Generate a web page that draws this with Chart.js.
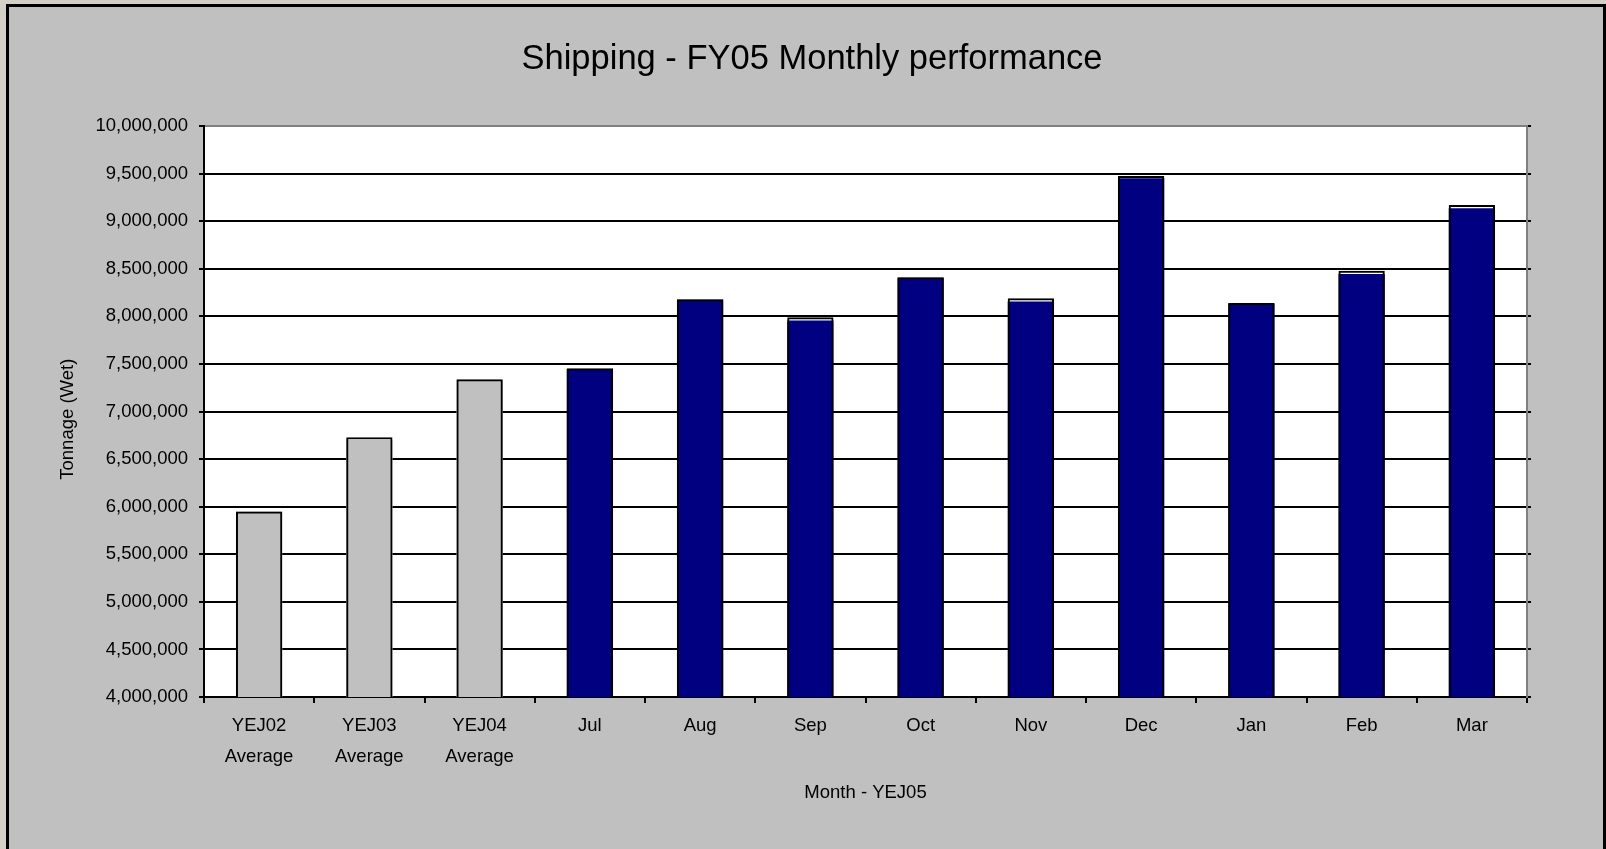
<!DOCTYPE html>
<html><head><meta charset="utf-8">
<script src="https://cdn.jsdelivr.net/npm/chart.js@4.4.1/dist/chart.umd.min.js"></script>
<style>
html,body{margin:0;padding:0;background:#d4d0c8;overflow:hidden;width:1606px;height:849px}
#frame{position:absolute;left:6px;top:4px;width:1594px;height:850px;border:3px solid #000;background:#c0c0c0}
canvas{display:block}
</style></head><body>
<div id="frame"><canvas id="c" width="1594" height="842"></canvas></div>
<script>
// ---- data ----
const categories = [["YEJ02","Average"],["YEJ03","Average"],["YEJ04","Average"],"Jul","Aug","Sep","Oct","Nov","Dec","Jan","Feb","Mar"];
const outlineTonnage = [5950000,6730000,7340000,7455000,8180000,7990000,8410000,8190000,9475000,8140000,8480000,9170000];
const filledTonnage  = [5950000,6700000,7330000,7445000,8175000,7955000,8405000,8155000,9450000,8135000,8445000,9135000];
const barFill = ["#c0c0c0","#c0c0c0","#c0c0c0","#000080","#000080","#000080","#000080","#000080","#000080","#000080","#000080","#000080"];
const yMin = 4000000, yMax = 10000000, yStep = 500000;
const titleText = "Shipping - FY05 Monthly performance";
const xTitle = "Month - YEJ05";
const yTitle = "Tonnage (Wet)   ";

const FONT = "'Liberation Sans', Arial, sans-serif";

const plotBg = {
  id: 'plotBg',
  beforeDraw(chart) {
    const {ctx, chartArea: a} = chart;
    ctx.save(); ctx.fillStyle = '#ffffff';
    ctx.fillRect(a.left, a.top, a.right - a.left, a.bottom - a.top);
    ctx.restore();
  }
};

new Chart(document.getElementById('c'), {
  type: 'bar',
  data: {
    labels: categories,
    datasets: [
      { label: 'outline', data: outlineTonnage, backgroundColor: 'rgba(0,0,0,0)', borderColor: '#000', borderWidth: 2, borderSkipped: false },
      { label: 'fill', data: filledTonnage, backgroundColor: barFill, borderWidth: 0 }
    ]
  },
  options: {
    responsive: false,
    animation: false,
    devicePixelRatio: 1,
    layout: { padding: { left: 12, right: 0, top: 0, bottom: 0 } },
    datasets: { bar: { categoryPercentage: 1.0, barPercentage: 0.42 } },
    plugins: {
      legend: { display: false },
      tooltip: { enabled: false },
      title: {
        display: true, text: titleText, color: '#000',
        font: { family: FONT, size: 34.5, weight: 'normal', lineHeight: 1.2 },
        padding: { top: 31.3, bottom: 46.3 }
      }
    },
    scales: {
      x: {
        stacked: true,
        afterFit(s) { s.height = 152; },
        grid: { display: true, drawOnChartArea: false, drawTicks: true, tickLength: 6, color: '#000', lineWidth: 2, offset: true },
        border: { display: true, color: '#000', width: 2 },
        ticks: { color: '#000', autoSkip: false, maxRotation: 0, padding: 7,
                 font: { family: FONT, size: 18.5, lineHeight: 1.68 } },
        title: { display: true, text: xTitle, color: '#000', font: { family: FONT, size: 18.5 }, padding: { top: 0, bottom: 45 } }
      },
      y: {
        stacked: false,
        min: yMin, max: yMax,
        afterFit(s) { s.width = 183; },
        grid: { color: (c) => (c.tick && c.tick.value === yMax) ? '#808080' : '#000', tickColor: '#000', lineWidth: 2, tickLength: 5 },
        border: { display: true, color: '#000', width: 2 },
        ticks: { stepSize: yStep, color: '#000', padding: 11, font: { family: FONT, size: 18.5 },
                 callback: (v) => Number(v).toLocaleString('en-US') },
        title: { display: true, text: yTitle, color: '#000', font: { family: FONT, size: 18.5 }, padding: { top: 36, bottom: 0 } }
      },
      y2: {
        type: 'linear', position: 'right',
        min: yMin, max: yMax,
        afterFit(s) { s.width = 76; },
        grid: { drawOnChartArea: false, drawTicks: true, tickLength: 4, color: '#000', lineWidth: 2 },
        border: { display: true, color: '#808080', width: 2 },
        ticks: { stepSize: yStep, display: false }
      }
    }
  },
  plugins: [plotBg]
});
</script>
</body></html>
